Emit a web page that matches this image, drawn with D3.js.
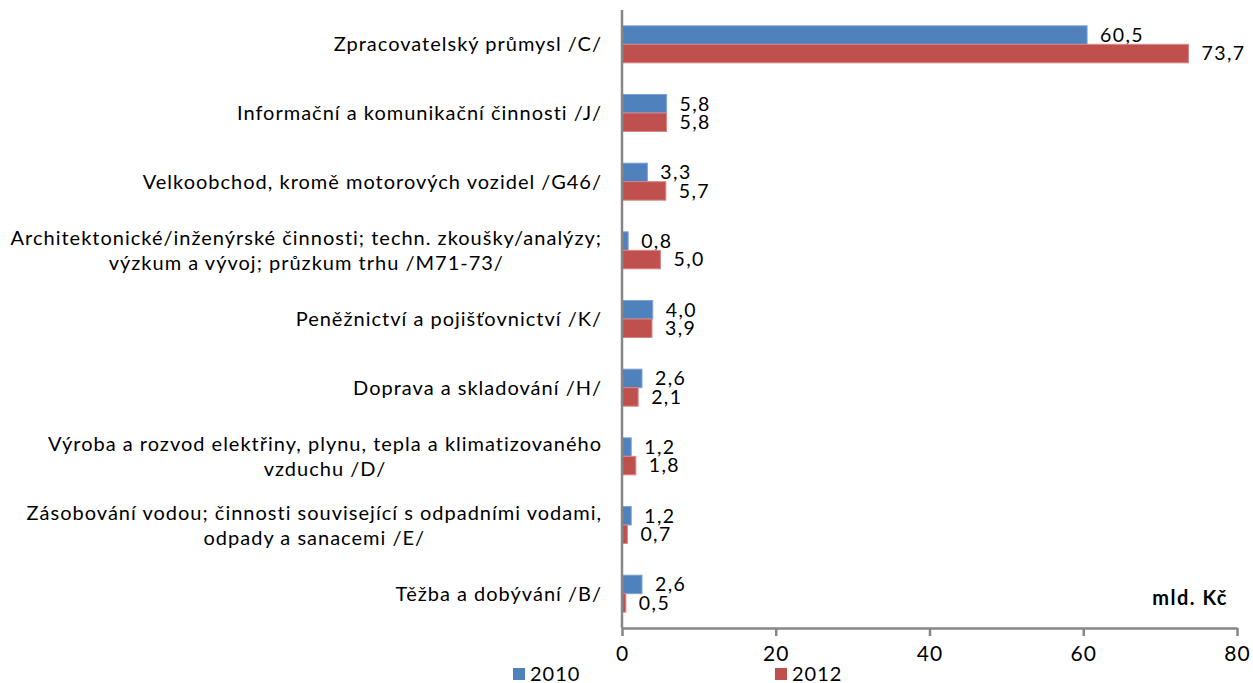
<!DOCTYPE html>
<meta charset="utf-8">
<style>
body { margin: 0; background: #fff; }
text { font-family: Lato, "Open Sans", sans-serif; fill: #000; }
.axis path, .axis line { stroke: #868686; stroke-width: 2.5; }
.axis text { font-size: 21px; letter-spacing: 1px; }
</style>
<body></body>
<script src="https://d3js.org/d3.v7.min.js"></script>
<script>
// category labels (each array = wrapped lines)
var categories = [
  ["Zpracovatelský průmysl /C/"],
  ["Informační a komunikační činnosti /J/"],
  ["Velkoobchod, kromě motorových vozidel /G46/"],
  ["Architektonické/inženýrské činnosti; techn. zkoušky/analýzy;", "výzkum a vývoj; průzkum trhu /M71-73/"],
  ["Peněžnictví a pojišťovnictví /K/"],
  ["Doprava a skladování /H/"],
  ["Výroba a rozvod elektřiny, plynu, tepla a klimatizovaného", "vzduchu /D/"],
  ["Zásobování vodou; činnosti související s odpadními vodami,", "odpady a sanacemi /E/"],
  ["Těžba a dobývání /B/"]
];
var values2010 = [60.5, 5.8, 3.3, 0.8, 4.0, 2.6, 1.2, 1.2, 2.6];
var values2012 = [73.7, 5.8, 5.7, 5.0, 3.9, 2.1, 1.8, 0.7, 0.5];
var series = ["2010", "2012"];
var xTicks = [0, 20, 40, 60, 80];
var colors = { "2010": "#4F81BD", "2012": "#C0504D" };
var strokes = { "2010": "#7ea3d3", "2012": "#d98684" };

var width = 1253, height = 683;
var svg = d3.select("body").append("svg")
    .attr("width", width)
    .attr("height", height);

var x = d3.scaleLinear().domain([0, 80]).range([622, 1237]);
var y = d3.scaleBand().domain(d3.range(categories.length)).range([10, 628]);
var inner = d3.scaleBand().domain(series).range([0, 37]);
var fmt = function(v) { return d3.format(".1f")(v).replace(".", ","); };

var rows = categories.map(function(c, i) {
  return { i: i, lines: c, v: { "2010": values2010[i], "2012": values2012[i] } };
});

// bars
series.forEach(function(s) {
  svg.selectAll(".bar" + s)
    .data(rows)
    .enter().append("rect")
      .attr("x", x(0))
      .attr("y", function(d) { return y(d.i) + (y.bandwidth() - 37) / 2 + inner(s); })
      .attr("width", function(d) { return x(d.v[s]) - x(0); })
      .attr("height", inner.bandwidth())
      .attr("fill", colors[s])
      .attr("stroke", strokes[s])
      .attr("stroke-width", 1);

  svg.selectAll(".lab" + s)
    .data(rows)
    .enter().append("text")
      .attr("x", function(d) { return x(d.v[s]) + 13; })
      .attr("y", function(d) { return y(d.i) + (y.bandwidth() - 37) / 2 + inner(s) + inner.bandwidth() / 2; })
      .attr("dy", "0.35em")
      .style("font-size", "19.5px")
      .style("letter-spacing", "1.4px")
      .text(function(d) { return fmt(d.v[s]); });
});

// x axis
svg.append("g")
    .attr("class", "axis")
    .attr("transform", "translate(0," + 628 + ")")
    .call(d3.axisBottom(x).tickValues(xTicks).tickSize(8).tickPadding(10).tickSizeOuter(0));

// y axis line
svg.append("line")
    .attr("x1", x(0)).attr("x2", x(0))
    .attr("y1", 10).attr("y2", 628)
    .attr("stroke", "#868686").attr("stroke-width", 2.5);

// category labels: block right aligned, lines centred within block
var labG = svg.selectAll(".cat")
    .data(rows)
    .enter().append("g");
labG.each(function(d) {
  var g = d3.select(this);
  var cy = y(d.i) + y.bandwidth() / 2;
  var lh = 25;
  var ts = d.lines.map(function(l, k) {
    return g.append("text")
      .attr("y", cy + (k - (d.lines.length - 1) / 2) * lh)
      .attr("dy", "0.35em")
      .attr("text-anchor", "middle")
      .style("font-size", "20px")
      .style("letter-spacing", "1px")
      .text(l);
  });
  var maxW = d3.max(ts, function(t) { return t.node().getComputedTextLength(); });
  ts.forEach(function(t) { t.attr("x", 602 - maxW / 2); });
});

// unit
svg.append("text")
    .attr("x", 1228).attr("y", 598)
    .attr("dy", "0.35em")
    .attr("text-anchor", "end")
    .style("font-size", "20px")
    .style("letter-spacing", "1.5px")
    .style("font-weight", "bold")
    .text("mld. Kč");

// legend
var legX = { "2010": 513, "2012": 775 };
series.forEach(function(s) {
  svg.append("rect")
      .attr("x", legX[s]).attr("y", 668)
      .attr("width", 12).attr("height", 12)
      .attr("fill", colors[s]);
  svg.append("text")
      .attr("x", legX[s] + 17).attr("y", 674)
      .attr("dy", "0.35em")
      .style("font-size", "20px")
      .style("letter-spacing", "1px")
      .text(s);
});
</script>
